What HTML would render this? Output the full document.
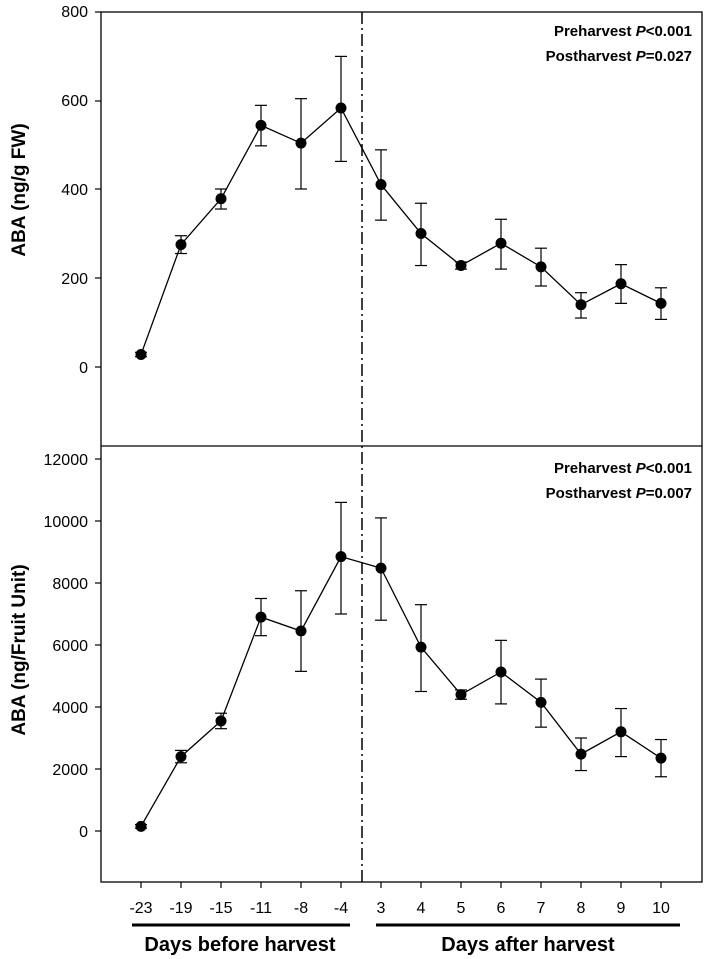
<!DOCTYPE html>
<html><head><meta charset="utf-8"><style>
body{margin:0;background:#fff}
svg{display:block;font-family:"Liberation Sans",Arial,sans-serif}
</style></head><body>
<svg id="s" width="708" height="959" viewBox="0 0 708 959" xmlns="http://www.w3.org/2000/svg">
<rect x="101" y="12" width="601" height="870" fill="none" stroke="#000" stroke-width="1.3"/>
<line x1="101" y1="446" x2="702" y2="446" stroke="#000" stroke-width="1.3"/>
<line x1="362" y1="12" x2="362" y2="882" stroke="#000" stroke-width="1.5" stroke-dasharray="12,4,2,4"/>
<g font-size="16" text-anchor="end">
<text x="88" y="17">800</text><text x="88" y="106">600</text><text x="88" y="195">400</text><text x="88" y="284">200</text><text x="88" y="373">0</text>
<text x="88" y="465">12000</text><text x="88" y="527">10000</text><text x="88" y="589">8000</text><text x="88" y="651">6000</text><text x="88" y="713">4000</text><text x="88" y="775">2000</text><text x="88" y="837">0</text>
</g>
<g stroke="#000" stroke-width="1.2">
<line x1="95" y1="12" x2="101" y2="12"/><line x1="95" y1="101" x2="101" y2="101"/><line x1="95" y1="189" x2="101" y2="189"/><line x1="95" y1="278" x2="101" y2="278"/><line x1="95" y1="367" x2="101" y2="367"/>
<line x1="95" y1="459" x2="101" y2="459"/><line x1="95" y1="521" x2="101" y2="521"/><line x1="95" y1="583" x2="101" y2="583"/><line x1="95" y1="645" x2="101" y2="645"/><line x1="95" y1="707" x2="101" y2="707"/><line x1="95" y1="769" x2="101" y2="769"/><line x1="95" y1="831" x2="101" y2="831"/>
</g>
<g font-size="15" font-weight="bold" text-anchor="end">
<text x="692" y="36">Preharvest  <tspan font-style="italic">P</tspan>&lt;0.001</text>
<text x="692" y="61">Postharvest <tspan font-style="italic">P</tspan>=0.027</text>
<text x="692" y="473">Preharvest  <tspan font-style="italic">P</tspan>&lt;0.001</text>
<text x="692" y="498">Postharvest <tspan font-style="italic">P</tspan>=0.007</text>
</g>
<g font-size="19" font-weight="bold" text-anchor="middle">
<text transform="translate(25,190) rotate(-90)">ABA (ng/g FW)</text>
<text transform="translate(25,650) rotate(-90)">ABA (ng/Fruit Unit)</text>
<text x="240" y="951" font-size="20">Days before harvest</text>
<text x="528" y="951" font-size="20">Days after harvest</text>
</g>
<line x1="132" y1="925" x2="350" y2="925" stroke="#000" stroke-width="3"/>
<line x1="376" y1="925" x2="680" y2="925" stroke="#000" stroke-width="3"/>
<g id="d"></g>
</svg>
<script>
var xs=[141,181,221,261,301,341,381,421,461,501,541,581,621,661];
var labs=["-23","-19","-15","-11","-8","-4","3","4","5","6","7","8","9","10"];
var dTop=[[28,23,33],[275,255,295],[378,355,400],[543,497,588],[503,400,603],[582,462,698],[410,330,488],[300,228,368],[228,220,236],[278,220,332],[225,182,267],[140,110,167],[187,143,230],[143,107,178]];
var dBot=[[150,90,210],[2400,2200,2600],[3550,3300,3800],[6900,6300,7500],[6450,5150,7750],[8850,7000,10600],[8480,6800,10100],[5930,4500,7300],[4400,4250,4550],[5130,4100,6150],[4150,3350,4900],[2480,1950,3000],[3200,2400,3950],[2350,1750,2950]];
var h="";
function series(d,f){var p=[];for(var i=0;i<d.length;i++){var x=xs[i];p.push(x+","+f(d[i][0]));
var a=f(d[i][1]),b=f(d[i][2]);
h+='<line x1="'+x+'" y1="'+a+'" x2="'+x+'" y2="'+b+'" stroke="#000" stroke-width="1.2"/>';
h+='<line x1="'+(x-6)+'" y1="'+a+'" x2="'+(x+6)+'" y2="'+a+'" stroke="#000" stroke-width="1.2"/>';
h+='<line x1="'+(x-6)+'" y1="'+b+'" x2="'+(x+6)+'" y2="'+b+'" stroke="#000" stroke-width="1.2"/>';}
h+='<polyline points="'+p.join(" ")+'" fill="none" stroke="#000" stroke-width="1.3"/>';
for(var i=0;i<d.length;i++)h+='<circle cx="'+xs[i]+'" cy="'+f(d[i][0])+'" r="5.5" fill="#000"/>';}
series(dTop,function(v){return 367-v*0.445});
series(dBot,function(v){return 831-v*0.031});
for(var i=0;i<14;i++){h+='<line x1="'+xs[i]+'" y1="882" x2="'+xs[i]+'" y2="888" stroke="#000" stroke-width="1.2"/>';
h+='<text x="'+xs[i]+'" y="913" font-size="16" text-anchor="middle">'+labs[i]+'</text>';}
document.getElementById("d").innerHTML=h;
</script>
</body></html>
